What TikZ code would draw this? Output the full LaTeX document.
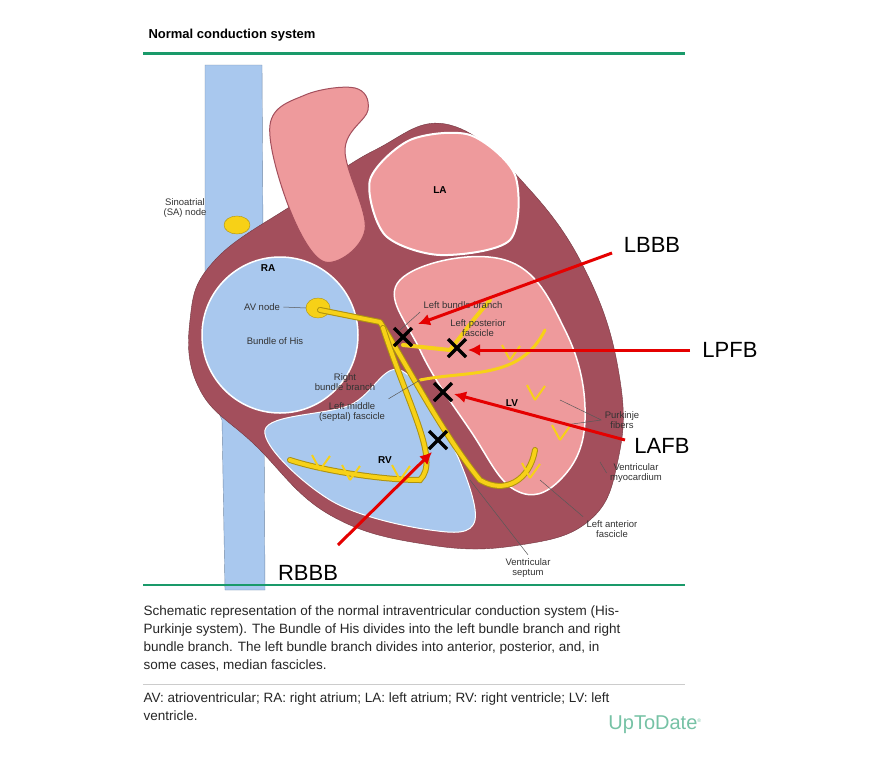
\documentclass[tikz,border=0pt]{standalone}
\usepackage{fontspec}
\setmainfont{Liberation Sans}
\usetikzlibrary{arrows.meta}
\begin{document}
\begin{tikzpicture}[x=1pt,y=-1pt,
 lab/.style={font=\fontsize{9.5}{10.5}\selectfont,align=center,text=black!80},
 big/.style={font=\fontsize{22}{24}\selectfont},
 captxt/.style={font=\fontsize{13.5}{18}\selectfont,anchor=north west,align=left,text=black!85},
 arr/.style={red!90!black,line width=3pt,-{Latex[length=12pt,width=12pt]}},
 xm/.style={line width=3.5pt,black},
 ptr/.style={gray!70!black,line width=0.5pt}]
\definecolor{bl}{HTML}{A9C8EE}
\definecolor{my}{HTML}{A34F5C}
\definecolor{pk}{HTML}{EE9A9C}
\definecolor{yl}{HTML}{F7D117}
\definecolor{gr}{HTML}{1A9A6A}
\useasboundingbox (0,0) rectangle (870,782);
\fill[white] (0,0) rectangle (870,782);
\node[anchor=west,font=\bfseries\fontsize{13}{15}\selectfont] (title) at (145,35) {Normal conduction system};
\draw[gr,line width=3pt] (143,53) -- (685,53);
% vena cava
\fill[bl,draw=bl!70!black,line width=0.4pt] (205,65) -- (262,65) -- (265,590) -- (225,590) -- (222,420) -- (205,380) -- cycle;
% heart outer
\fill[my,draw=my!70!black] plot[smooth cycle,tension=0.7] coordinates{(215,260) (300,200) (375,150) (450,125) (530,190) (590,280) (620,380) (618,460) (590,520) (520,545) (430,545) (330,515) (255,445) (200,390) (190,320)};
% LA
\fill[pk,draw=white,line width=2pt] plot[smooth cycle] coordinates{(370,180) (410,140) (470,135) (515,175) (510,240) (440,255) (385,235)};
% LV
\fill[pk,draw=white,line width=1.5pt] plot[smooth cycle,tension=0.7] coordinates{(400,280) (505,260) (565,330) (585,420) (560,480) (515,490) (470,430) (420,350)};
% RV
\fill[bl,draw=white,line width=1pt] plot[smooth cycle,tension=0.6] coordinates{(265,430) (350,405) (400,370) (450,440) (475,520) (430,530) (330,500)};
% RA
\fill[bl,draw=white,line width=1.5pt] (280,335) circle (78);
% aorta
\fill[pk,draw=my,line width=1pt] plot[smooth cycle,tension=0.6] coordinates{(270,125) (305,95) (355,88) (368,110) (345,150) (365,230) (325,262) (290,210)};
% SA node, AV node
\fill[yl,draw=yl!70!black] (237,225) ellipse (13 and 9);
\fill[yl,draw=yl!70!black] (318,308) ellipse (12 and 10);
% conduction paths
\draw[yl!70!black,line width=6pt,line cap=round,line join=round] (320,310) -- (380,322) .. controls (410,370) and (440,430) .. (480,480) .. controls (505,495) and (530,480) .. (535,450);
\draw[yl,line width=4pt,line cap=round,line join=round] (320,310) -- (380,322) .. controls (410,370) and (440,430) .. (480,480) .. controls (505,495) and (530,480) .. (535,450);
\draw[yl!70!black,line width=6pt,line cap=round] (383,328) .. controls (410,410) and (440,460) .. (420,480) .. controls (380,480) and (320,470) .. (290,460);
\draw[yl,line width=4pt,line cap=round] (383,328) .. controls (410,410) and (440,460) .. (420,480) .. controls (380,480) and (320,470) .. (290,460);
\draw[yl,line width=4pt,line cap=round] (403,345) -- (450,350) -- (475,318) -- (490,300);
\draw[yl,line width=3pt,line cap=round] (420,380) .. controls (470,370) and (520,380) .. (545,330);
\foreach \p in {(510,360),(535,400),(560,440),(530,478),(350,480),(320,470),(400,480)}
 \draw[yl,line width=2pt] \p -- ++(-8,-15) \p -- ++(10,-14);
% labels
\node[lab] (sa) at (185,208) {Sinoatrial\\(SA) node};
\node[font=\bfseries\fontsize{10}{12}\selectfont] (ra) at (268,268) {RA};
\node[font=\bfseries\fontsize{10}{12}\selectfont] (la) at (440,190) {LA};
\node[lab] (av) at (262,307) {AV node};
\draw[ptr] (av.east) -- (306,308);
\node[lab] (his) at (275,341) {Bundle of His};
\node[lab] (lbb) at (463,305) {Left bundle branch};
\draw[ptr] (lbb.south west) -- (400,330);
\node[lab] (lpf) at (478,328) {Left posterior\\fascicle};
\node[lab] (rbb) at (345,382) {Right\\bundle branch};
\node[lab] (lmf) at (352,412) {Left middle\\(septal) fascicle};
\draw[ptr] (lmf.north east) -- (420,380);
\node[font=\bfseries\fontsize{10}{12}\selectfont] (lv) at (512,403) {LV};
\node[font=\bfseries\fontsize{10}{12}\selectfont] (rv) at (385,460) {RV};
\node[lab] (pf) at (622,420) {Purkinje\\fibers};
\draw[ptr] (pf.west) -- (560,400) (pf.west) -- (565,425);
\node[lab] (vm) at (636,473) {Ventricular\\myocardium};
\draw[ptr] (vm.west) -- (600,462);
\node[lab] (laf) at (612,529) {Left anterior\\fascicle};
\draw[ptr] (laf.north west) -- (540,480);
\node[lab] (vs) at (528,568) {Ventricular\\septum};
\draw[ptr] (vs.north) -- (470,480);
% X marks
\foreach \n/\x/\y in {xa/403/337,xb/457/348,xc/443/392,xd/438/440}{
 \coordinate (\n) at (\x,\y);
 \draw[xm] (\x-9,\y-9) -- (\x+9,\y+9) (\x-9,\y+9) -- (\x+9,\y-9);}
% arrows
\node[big] (LBBB) at (652,245) {LBBB};
\node[big] (LPFB) at (730,350) {LPFB};
\node[big] (LAFB) at (662,446) {LAFB};
\node[big] (RBBB) at (308,573) {RBBB};
\coordinate (ea) at (418,324); \coordinate (eb) at (468,350);
\coordinate (ec) at (454,394); \coordinate (ed) at (432,452);
\draw[arr] (612,253) -- (ea);
\draw[arr] (690,350) -- (eb);
\draw[arr] (625,440) -- (ec);
\draw[arr] (338,545) -- (ed);
% caption
\draw[gr,line width=2pt] (143,585) -- (685,585);
\node[captxt] (c1) at (140,602) {Schematic representation of the normal intraventricular conduction system (His-\\Purkinje system). The Bundle of His divides into the left bundle branch and right\\bundle branch. The left bundle branch divides into anterior, posterior, and, in\\some cases, median fascicles.};
\draw[gray!40,line width=1pt] (143,684) -- (685,684);
\node[captxt] (c2) at (140,689) {AV: atrioventricular; RA: right atrium; LA: left atrium; RV: right ventricle; LV: left\\ventricle.};
\node[text=gr!60,font=\fontsize{20}{22}\selectfont] (utd) at (655,725) {UpToDate\textsuperscript{\tiny\textregistered}};
\end{tikzpicture}
\end{document}
